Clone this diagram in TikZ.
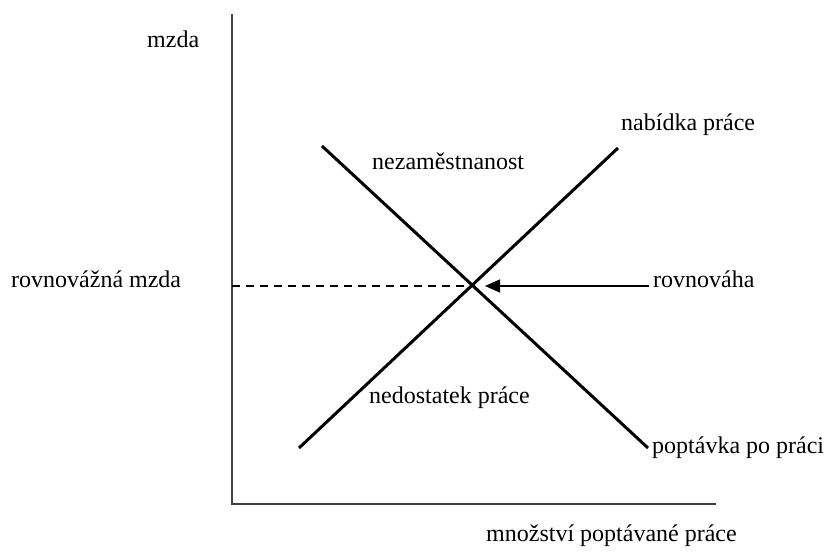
\documentclass[tikz,border=0pt]{standalone}
\usepackage{fontspec}
\setmainfont{Liberation Serif}
\usetikzlibrary{arrows.meta}
\begin{document}
\begin{tikzpicture}[x=1pt,y=-1pt,
  lbl/.style={inner sep=0pt,anchor=base west,font=\fontsize{24}{28}\selectfont},
  axis/.style={line width=2pt,draw=black!75},
  curve/.style={line width=3pt,draw=black},
  guide/.style={line width=2pt,dash pattern=on 8pt off 6pt},
  pointer/.style={line width=1.5pt,-{Triangle[length=15pt,width=13pt]}}]
\useasboundingbox (0,0) rectangle (828,552);
\coordinate (O) at (232,504);
\coordinate (Ytop) at (232,14);
\coordinate (Xend) at (716,504);
\coordinate (S1) at (299,448);
\coordinate (S2) at (618,148);
\coordinate (D1) at (322,146);
\coordinate (D2) at (648,448);
\coordinate (E) at (472,286);
\coordinate (Eax) at (232,286);
\coordinate (Etip) at (485,286);
\coordinate (Atail) at (649,286);
\draw[axis] (Ytop) -- (O) -- (Xend);
\draw[curve] (S1) -- (S2);
\draw[curve] (D1) -- (D2);
\draw[guide] (Eax) -- (E);
\draw[pointer] (Atail) -- (Etip);
\node[lbl] (mzda) at (147,47) {mzda};
\node[lbl] (rm) at (11,287) {rovnovážná mzda};
\node[lbl] (nab) at (621,130) {nabídka práce};
\node[lbl] (nez) at (372,169) {nezaměstnanost};
\node[lbl] (rov) at (653,287) {rovnováha};
\node[lbl] (ned) at (369,403) {nedostatek práce};
\node[lbl] (pop) at (652,453) {poptávka po práci};
\node[lbl] (mnoz) at (486,541) {množství poptávané práce};
\end{tikzpicture}
\end{document}
